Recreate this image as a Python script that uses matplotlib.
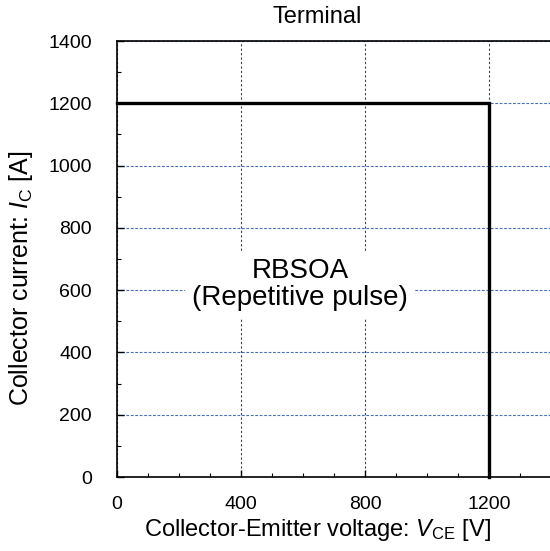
import matplotlib.pyplot as plt
from matplotlib.ticker import MultipleLocator

plt.rcParams['font.family'] = ['Liberation Sans', 'DejaVu Sans']
plt.rcParams['mathtext.fontset'] = 'custom'
plt.rcParams['mathtext.rm'] = 'Liberation Sans'
plt.rcParams['mathtext.it'] = 'Liberation Sans:italic'

# RBSOA boundary
vce = [0, 1200, 1200]
ic = [1200, 1200, 0]

xticks = [0, 400, 800, 1200]
yticks = [0, 200, 400, 600, 800, 1000, 1200, 1400]

fig = plt.figure(figsize=(5.5, 5.51), dpi=100)
ax = fig.add_axes([117 / 550, 74 / 551, 434 / 550, 436 / 551])

ax.plot(vce, ic, color='black', lw=2.4, solid_joinstyle='miter', zorder=3, clip_on=False)

ax.set_xlim(0, 1400)
ax.set_ylim(0, 1400)
ax.set_xticks(xticks)
ax.set_yticks(yticks)
ax.xaxis.set_minor_locator(MultipleLocator(100))
ax.yaxis.set_minor_locator(MultipleLocator(100))
ax.tick_params(which='major', direction='in', length=5, width=1, labelsize=14)
ax.tick_params(which='minor', direction='in', length=3, width=0.8)
ax.tick_params(axis='x', which='major', pad=14)
ax.tick_params(axis='y', which='major', pad=18)
ax.xaxis.grid(True, which='major', color='#24418C', ls=(0, (2, 2)), lw=0.8)
ax.yaxis.grid(True, which='major', color='#4A6FB5', ls=(0, (2.5, 1.5)), lw=0.8)
ax.spines['right'].set_visible(False)
for s in ['left', 'bottom', 'top']:
    ax.spines[s].set_linewidth(1.2)

ax.set_xlabel(r'Collector-Emitter voltage: $\mathit{V}_\mathrm{CE}$ [V]', fontsize=17)
ax.set_ylabel(r'Collector current: $\mathit{I}_\mathrm{C}$ [A]', fontsize=18)
ax.xaxis.set_label_coords(0.463, -0.092)
ax.yaxis.set_label_coords(-0.19, 0.456)
fig.text(317 / 550, 1 - 23 / 551, 'Terminal', ha='center', va='baseline', fontsize=17)

ax.text(590, 617, 'RBSOA\n(Repetitive pulse)', ha='center', va='center', fontsize=20,
        linespacing=1.05, zorder=4,
        bbox=dict(facecolor='white', edgecolor='none', pad=5))

fig.savefig('out.png', dpi=100)
